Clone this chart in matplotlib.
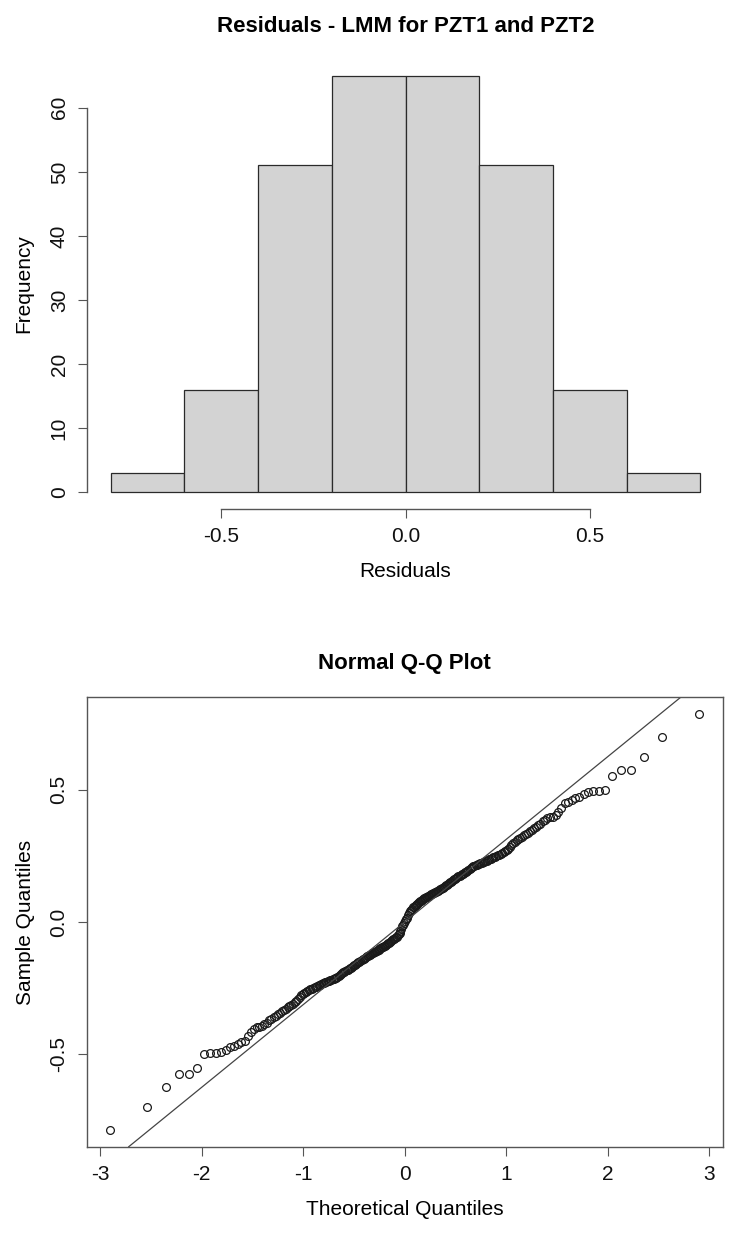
import numpy as np
import matplotlib
matplotlib.use("Agg")
import matplotlib.pyplot as plt
from statistics import NormalDist

plt.rcParams['font.family'] = ['Liberation Sans', 'DejaVu Sans']
plt.rcParams['axes.unicode_minus'] = False

# sorted residuals (lower half then upper half)
resid_low = [
    -0.786, -0.698, -0.622, -0.576, -0.573, -0.552, -0.497, -0.496, -0.494, -0.490,
    -0.482, -0.472, -0.468, -0.462, -0.455, -0.450, -0.430, -0.415, -0.405, -0.398,
    -0.395, -0.392, -0.386, -0.380, -0.372, -0.366, -0.360, -0.354, -0.349, -0.343,
    -0.337, -0.332, -0.327, -0.322, -0.318, -0.314, -0.309, -0.303, -0.297, -0.290,
    -0.283, -0.277, -0.272, -0.268, -0.264, -0.261, -0.258, -0.255, -0.252, -0.249,
    -0.247, -0.244, -0.242, -0.239, -0.237, -0.234, -0.232, -0.230, -0.228, -0.226,
    -0.224, -0.222, -0.220, -0.218, -0.216, -0.214, -0.213, -0.211, -0.209, -0.203,
    -0.199, -0.196, -0.193, -0.190, -0.188, -0.185, -0.183, -0.180, -0.177, -0.175,
    -0.172, -0.169, -0.167, -0.164, -0.161, -0.158, -0.155, -0.152, -0.150, -0.147,
    -0.144, -0.141, -0.139, -0.136, -0.133, -0.130, -0.128, -0.125, -0.123, -0.120,
    -0.118, -0.116, -0.114, -0.112, -0.110, -0.108, -0.106, -0.104, -0.102, -0.100,
    -0.098, -0.096, -0.094, -0.092, -0.090, -0.087, -0.084, -0.081, -0.078, -0.075,
    -0.072, -0.069, -0.066, -0.063, -0.061, -0.058, -0.055, -0.050, -0.046, -0.040,
    -0.033, -0.025, -0.017, -0.010, -0.004,
]
resid_high = [
    0.004, 0.010, 0.017, 0.025, 0.033,
    0.040, 0.046, 0.050, 0.055, 0.058, 0.061, 0.063, 0.066, 0.069, 0.072,
    0.075, 0.078, 0.081, 0.084, 0.087, 0.090, 0.092, 0.094, 0.096, 0.098,
    0.100, 0.102, 0.104, 0.106, 0.108, 0.110, 0.112, 0.114, 0.116, 0.118,
    0.120, 0.123, 0.125, 0.128, 0.130, 0.133, 0.136, 0.139, 0.141, 0.144,
    0.147, 0.150, 0.152, 0.155, 0.158, 0.161, 0.164, 0.167, 0.169, 0.172,
    0.175, 0.177, 0.180, 0.183, 0.185, 0.188, 0.190, 0.193, 0.196, 0.199,
    0.203, 0.209, 0.211, 0.213, 0.214, 0.216, 0.218, 0.220, 0.222, 0.224,
    0.226, 0.228, 0.230, 0.232, 0.234, 0.237, 0.239, 0.242, 0.244, 0.247,
    0.249, 0.252, 0.255, 0.258, 0.261, 0.264, 0.268, 0.272, 0.277, 0.283,
    0.290, 0.297, 0.303, 0.309, 0.314, 0.318, 0.322, 0.327, 0.332, 0.337,
    0.343, 0.349, 0.354, 0.360, 0.366, 0.372, 0.380, 0.386, 0.392, 0.395,
    0.398, 0.405, 0.415, 0.430, 0.450, 0.455, 0.462, 0.468, 0.472, 0.482,
    0.490, 0.494, 0.496, 0.497, 0.552, 0.573, 0.576, 0.622, 0.698, 0.786,
]
residuals = np.array(resid_low + resid_high)

hist_breaks = [-0.8, -0.6, -0.4, -0.2, 0.0, 0.2, 0.4, 0.6, 0.8]
hist_xticks = [-0.5, 0.0, 0.5]
hist_yticks = [0, 10, 20, 30, 40, 50, 60]
qq_xticks = [-3, -2, -1, 0, 1, 2, 3]
qq_yticks = [-0.5, 0.0, 0.5]

W, H = 740, 1233
fig = plt.figure(figsize=(W / 100, H / 100), dpi=100)


def fx(px):
    return px / W


def fy(py):
    return 1 - py / H


axis_col = '#555555'
lab_size = 15
title_size = 16

# ---- top panel : histogram ----
ax1 = fig.add_axes([fx(87), fy(509), fx(724) - fx(87), fy(59) - fy(509)])
counts, _, _ = ax1.hist(residuals, bins=hist_breaks, color='#d3d3d3',
                        edgecolor='#2a2a2a', linewidth=0.9)

pad_x = 0.04 * (hist_breaks[-1] - hist_breaks[0])
ax1.set_xlim(hist_breaks[0] - pad_x, hist_breaks[-1] + pad_x)
ax1.set_ylim(-0.04 * counts.max(), 1.04 * counts.max())

for s in ['top', 'right']:
    ax1.spines[s].set_visible(False)
ax1.spines['left'].set_bounds(hist_yticks[0], hist_yticks[-1])
ax1.spines['bottom'].set_bounds(hist_xticks[0], hist_xticks[-1])

ax1.set_xticks(hist_xticks)
ax1.set_xticklabels([f"{v:.1f}" for v in hist_xticks])
ax1.set_yticks(hist_yticks)
ax1.set_yticklabels([str(v) for v in hist_yticks], rotation=90, va='center')

# ---- bottom panel : normal Q-Q plot ----
n = len(residuals)
theo = np.array([NormalDist().inv_cdf((i - 0.5) / n) for i in range(1, n + 1)])
sample = np.sort(residuals)

ax2 = fig.add_axes([fx(86.7), fy(1146.7), fx(722.7) - fx(86.7), fy(697.3) - fy(1146.7)])
ax2.plot(theo, sample, linestyle='none', marker='o', ms=5.6, mfc='none',
         mec='#1a1a1a', mew=0.9)

# reference line through the quartiles (like qqline)
q1, q3 = np.quantile(sample, [0.25, 0.75])
z1, z3 = NormalDist().inv_cdf(0.25), NormalDist().inv_cdf(0.75)
slope = (q3 - q1) / (z3 - z1)
icpt = q1 - slope * z1
ax2.axline((0, icpt), slope=slope, color='#444444', linewidth=0.9)

rx = 0.04 * (theo.max() - theo.min())
ry = 0.04 * (sample.max() - sample.min())
ax2.set_xlim(theo.min() - rx, theo.max() + rx)
ax2.set_ylim(sample.min() - ry, sample.max() + ry)

ax2.set_xticks(qq_xticks)
ax2.set_xticklabels([str(v) for v in qq_xticks])
ax2.set_yticks(qq_yticks)
ax2.set_yticklabels([f"{v:.1f}" for v in qq_yticks], rotation=90, va='center')

for s in ax2.spines.values():
    s.set_color(axis_col)
    s.set_linewidth(1.0)

for ax in (ax1, ax2):
    for s in ['left', 'bottom']:
        ax.spines[s].set_color(axis_col)
        ax.spines[s].set_linewidth(1.0)
    ax.tick_params(direction='out', length=6.8, width=0.8, color=axis_col,
                   labelsize=lab_size, labelcolor='#111111')
    ax.tick_params(axis='y', pad=6.3)
    ax.tick_params(axis='x', pad=6.3)

# titles and axis labels
fig.text(fx(405.5), fy(31.5), "Residuals - LMM for PZT1 and PZT2", ha='center',
         va='baseline', fontsize=title_size, fontweight='bold')
fig.text(fx(405.5), fy(577.3), "Residuals", ha='center', va='baseline', fontsize=lab_size)
fig.text(fx(23.5), fy(284), "Frequency", ha='center', va='center', rotation=90,
         fontsize=lab_size)

fig.text(fx(404.7), fy(668.5), "Normal Q-Q Plot", ha='center', va='baseline',
         fontsize=title_size, fontweight='bold')
fig.text(fx(404.7), fy(1215), "Theoretical Quantiles", ha='center', va='baseline',
         fontsize=lab_size)
fig.text(fx(25.5), fy(922), "Sample Quantiles", ha='center', va='center', rotation=90,
         fontsize=lab_size)

fig.savefig("out.png", dpi=100, facecolor='white')
